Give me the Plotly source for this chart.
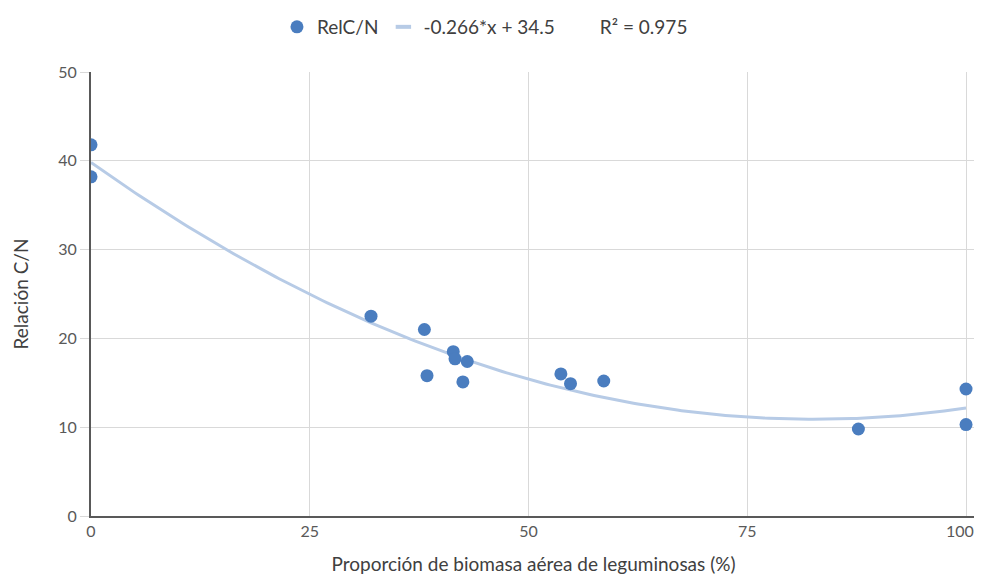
import numpy as np
import plotly.graph_objects as go

# Data
prop_leguminosas = [0, 0, 32.0, 38.1, 38.4, 41.4, 41.6, 43.0, 42.5, 53.7, 54.8, 58.6, 87.7, 100, 100]
rel_cn = [41.8, 38.2, 22.5, 21.0, 15.8, 18.5, 17.7, 17.4, 15.1, 16.0, 14.9, 15.2, 9.8, 14.3, 10.3]
x_ticks = [0, 25, 50, 75, 100]
x_tick_labels = ["0", "25", "50", "75", "100"]
y_ticks = [0, 10, 20, 30, 40, 50]
series_name = "RelC/N"
trend_name = "-0.266*x + 34.5"
r2_label = "R² = 0.975"

# Polynomial (order 2) trendline fitted to the data
coef = np.polyfit(prop_leguminosas, rel_cn, 2)
xt = np.linspace(0, 100, 201)
yt = np.polyval(coef, xt)

font_family = "Lato, 'Open Sans', sans-serif"
dot_color = "#4a7dbf"
trend_color = "#b7cbe6"

# last label padded with non-breaking spaces so it stays inside the window
tick_text = x_tick_labels[:-1] + [x_tick_labels[-1] + "\u00a0\u00a0\u00a0"]

fig = go.Figure()
fig.add_trace(go.Scatter(x=xt, y=yt, mode="lines", line=dict(color=trend_color, width=3),
                         showlegend=False, hoverinfo="skip"))
fig.add_trace(go.Scatter(x=prop_leguminosas, y=rel_cn, mode="markers", name=series_name,
                         marker=dict(color=dot_color, size=13)))
# legend-only entries
fig.add_trace(go.Scatter(x=[None], y=[None], mode="markers", name=trend_name,
                         marker=dict(symbol="line-ew", size=11, line=dict(color=trend_color, width=4))))
fig.add_trace(go.Scatter(x=[None], y=[None], mode="markers", name=r2_label,
                         marker=dict(symbol="circle", size=1, color="rgba(0,0,0,0)")))

# page body has an 8px margin, so the figure is sized/offset to compensate
fig.update_layout(
    width=974, height=567,
    margin=dict(l=83, r=6, t=64, b=59, autoexpand=False),
    paper_bgcolor="white", plot_bgcolor="white",
    font=dict(family=font_family, size=16, color="#595959"),
    legend=dict(orientation="h", x=0.4897, xanchor="center", y=1.0, yanchor="top",
                xref="container", yref="container", font=dict(size=19, color="#404040"),
                itemwidth=30, tracegroupgap=0),
    showlegend=True,
)
fig.update_xaxes(
    range=[0, 101.14], tickvals=x_ticks, ticktext=tick_text,
    showgrid=True, gridcolor="#d9d9d9", gridwidth=1,
    showline=True, linecolor="#595959", linewidth=2, zeroline=False,
    ticks="", ticklen=0, automargin=False, ticklabeloverflow="allow",
    title=dict(text="Proporción de biomasa aérea de leguminosas (%)", standoff=25,
               font=dict(size=19, color="#404040")),
)
fig.update_yaxes(
    range=[0, 50], tickvals=y_ticks, showgrid=True, gridcolor="#d9d9d9", gridwidth=1,
    showline=True, linecolor="#595959", linewidth=2, zeroline=False,
    ticks="outside", ticklen=9, tickcolor="#d9d9d9", automargin=False,
    title=dict(text="Relación C/N", standoff=25, font=dict(size=19, color="#404040")),
)

fig.write_html("out.html")
